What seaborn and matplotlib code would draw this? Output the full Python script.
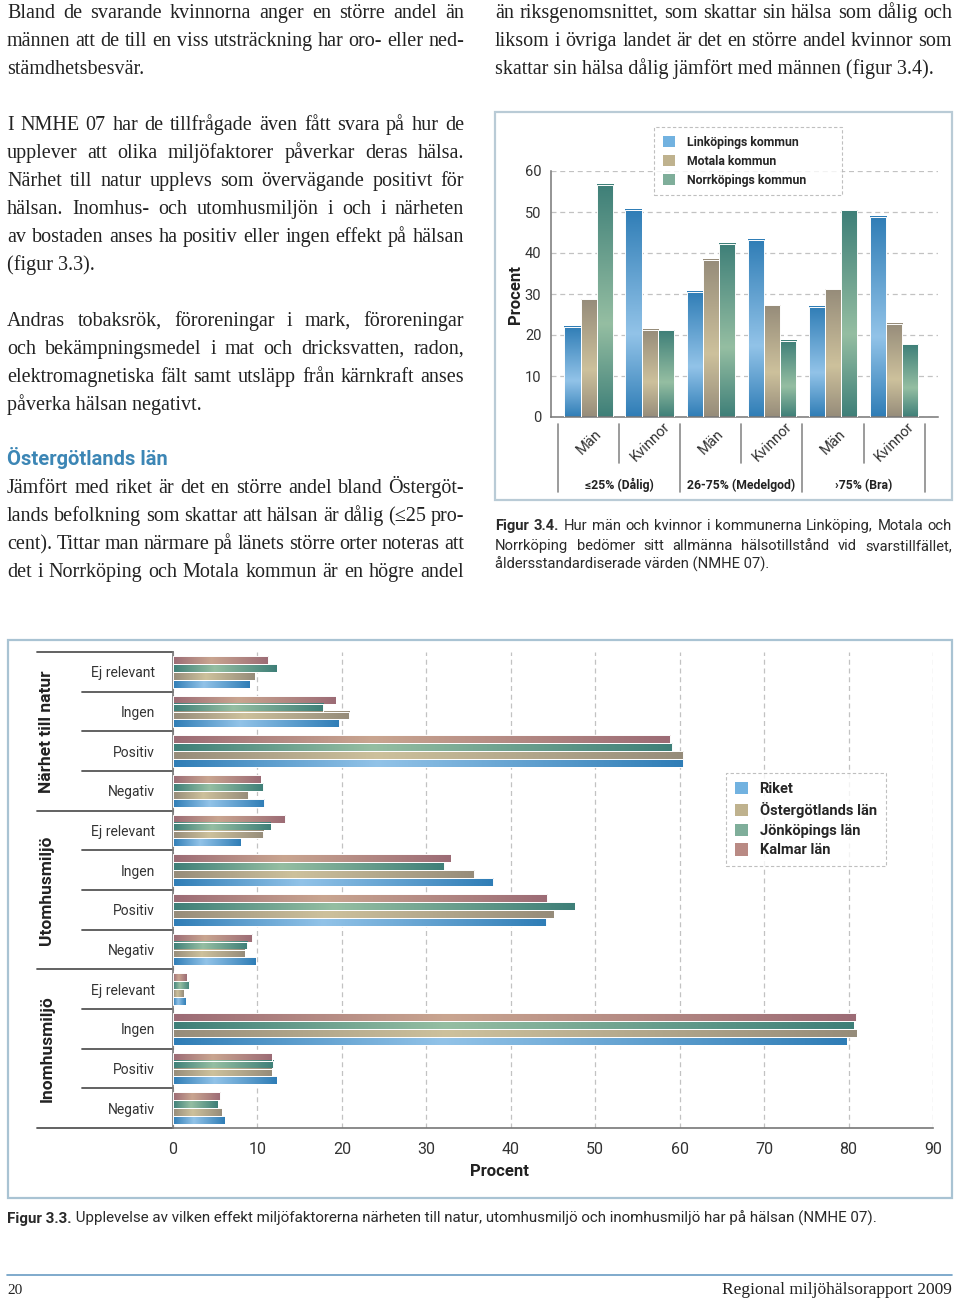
import matplotlib
matplotlib.use("Agg")
import matplotlib.pyplot as plt
import matplotlib.transforms as mtrans
from matplotlib.colors import LinearSegmentedColormap
from matplotlib.lines import Line2D
from matplotlib.patches import Patch, Rectangle
import numpy as np
import pandas as pd
import seaborn as sns

sns.set_style("white")
plt.rcParams['font.family'] = ['Roboto', 'DejaVu Sans']

W, H = 960, 1298
SERIF = ['Liberation Serif', 'DejaVu Serif']
SANS = ['Roboto', 'DejaVu Sans']

# ---- data, figur 3.4 ----
halsa_grupper = ["≤25% (Dålig)", "26-75% (Medelgod)", "›75% (Bra)"]
kon = ["Män", "Kvinnor"]
kommuner = ["Linköpings kommun", "Motala kommun", "Norrköpings kommun"]
linkoping = [22.0, 50.5, 30.5, 43.2, 26.9, 48.8]
motala = [28.7, 21.3, 38.4, 27.3, 31.2, 22.8]
norrkoping = [56.7, 21.1, 42.3, 18.6, 50.4, 17.7]

# ---- data, figur 3.3 ----
faktorer = ["Närhet till natur", "Utomhusmiljö", "Inomhusmiljö"]
effekter = ["Ej relevant", "Ingen", "Positiv", "Negativ"]
omraden = ["Riket", "Östergötlands län", "Jönköpings län", "Kalmar län"]
riket = [9.1, 19.7, 60.4, 10.8, 8.0, 37.9, 44.2, 9.8, 1.5, 79.8, 12.3, 6.1]
ostergotland = [9.7, 20.9, 60.4, 8.9, 10.7, 35.7, 45.1, 8.5, 1.3, 81.0, 11.7, 5.8]
jonkoping = [12.3, 17.8, 59.1, 10.7, 11.6, 32.1, 47.6, 8.8, 1.9, 80.6, 11.9, 5.3]
kalmar = [11.3, 19.3, 58.9, 10.4, 13.3, 32.9, 44.3, 9.4, 1.6, 80.9, 11.7, 5.6]

# colours: (flat legend colour, dark end, light middle)
BLUE = ("#72b2e0", "#2f7db6", "#92c3e8")
TAN = ("#bfb28e", "#968c7a", "#cdc19c")
TEAL = ("#7fae9a", "#3e7f78", "#95bea2")
ROSE = ("#b98a84", "#9c6b75", "#c9a590")


def fx(x):
    return x / W


def fy(y):
    return 1 - y / H


def shade(ax, levels, cols, horizontal):
    # replace flat bars by a dark-light-dark gradient, like the print
    for cont, lev in zip(ax.containers, levels):
        _, dark, light = cols[lev]
        cmap = LinearSegmentedColormap.from_list("g", [(0, dark), (0.4, light), (1, dark)])
        grad = np.linspace(0, 1, 256)
        img = grad[None, :] if horizontal else grad[:, None]
        for bar in cont:
            x0, y0, w, h = bar.get_x(), bar.get_y(), bar.get_width(), bar.get_height()
            ax.imshow(img, cmap=cmap, extent=[x0, x0 + w, y0, y0 + h], origin="lower",
                      aspect="auto", interpolation="bicubic", zorder=2)
            bar.set_facecolor("none")
            bar.set_edgecolor("white")
            bar.set_linewidth(0.7)
            bar.set_zorder(3)


def put_line(fig, rend, tokens, x0, x1, base, size, family, color="#222222"):
    # justified line: one text per word, gaps stretched to fill x0..x1
    def build(sz):
        ts = [fig.text(0, fy(base), w, fontsize=sz, family=family, fontweight=wt,
                       color=color, va="baseline", ha="left") for w, wt in tokens]
        return ts, [t.get_window_extent(rend).width for t in ts]
    ts, ws = build(size)
    space = size * 100 / 72 * 0.25
    n = len(ts)
    need = sum(ws) + 0.6 * space * (n - 1)
    if need > x1 - x0:
        for t in ts:
            t.remove()
        ts, ws = build(size * (x1 - x0) / need)
    gap = (x1 - x0 - sum(ws)) / (n - 1) if n > 1 else 0
    x = x0
    for t, w in zip(ts, ws):
        t.set_x(fx(x))
        x += w + gap


def words(s, wt="normal"):
    return [(w, wt) for w in s.split()]


def bold_lead(fig, rend, lead, rest, x0, base, size, color="#2a2a2a"):
    t = fig.text(fx(x0), fy(base), lead, fontsize=size, fontweight="bold", family=SANS,
                 color=color, va="baseline")
    w = t.get_window_extent(rend).width
    fig.text(fx(x0 + w), fy(base), " " + rest, fontsize=size, family=SANS, color=color,
             va="baseline")


fig = plt.figure(figsize=(W / 100, H / 100), dpi=100)
fig.patch.set_facecolor("white")
rend = fig.canvas.get_renderer()

# ---------------- page text ----------------
body = 14.5
left_col = [
    ("Bland de svarande kvinnorna anger en större andel än", 18, True),
    ("männen att de till en viss utsträckning har oro- eller ned-", 46, True),
    ("stämdhetsbesvär.", 74, False),
    ("I NMHE 07 har de tillfrågade även fått svara på hur de", 130, True),
    ("upplever att olika miljöfaktorer påverkar deras hälsa.", 158, True),
    ("Närhet till natur upplevs som övervägande positivt för", 186, True),
    ("hälsan. Inomhus- och utomhusmiljön i och i närheten", 214, True),
    ("av bostaden anses ha positiv eller ingen effekt på hälsan", 242, True),
    ("(figur 3.3).", 270, False),
    ("Andras tobaksrök, föroreningar i mark, föroreningar", 326, True),
    ("och bekämpningsmedel i mat och dricksvatten, radon,", 354, True),
    ("elektromagnetiska fält samt utsläpp från kärnkraft anses", 382, True),
    ("påverka hälsan negativt.", 410, False),
    ("Jämfört med riket är det en större andel bland Östergöt-", 493, True),
    ("lands befolkning som skattar att hälsan är dålig (≤25 pro-", 521, True),
    ("cent). Tittar man närmare på länets större orter noteras att", 549, True),
    ("det i Norrköping och Motala kommun är en högre andel", 577, True),
]
right_col = [
    ("än riksgenomsnittet, som skattar sin hälsa som dålig och", 18, True),
    ("liksom i övriga landet är det en större andel kvinnor som", 46, True),
    ("skattar sin hälsa dålig jämfört med männen (figur 3.4).", 74, False),
]
for col, (x0, x1) in [(left_col, (7, 464)), (right_col, (495, 952))]:
    for txt, base, just in col:
        if just:
            put_line(fig, rend, words(txt), x0, x1, base, body, SERIF)
        else:
            fig.text(fx(x0), fy(base), txt, fontsize=body, family=SERIF, color="#222222",
                     va="baseline")

fig.text(fx(7), fy(465), "Östergötlands län", fontsize=14.5, fontweight="bold",
         color="#3c86b5", family=SANS, va="baseline")

# caption figur 3.4
put_line(fig, rend, words("Figur 3.4.", "bold") +
         words("Hur män och kvinnor i kommunerna Linköping, Motala och"),
         495, 952, 530, 10.6, SANS, color="#2a2a2a")
put_line(fig, rend, words("Norrköping bedömer sitt allmänna hälsotillstånd vid svarstillfället,"),
         495, 952, 550, 10.6, SANS, color="#2a2a2a")
fig.text(fx(495), fy(569), "åldersstandardiserade värden (NMHE 07).", fontsize=10.6,
         family=SANS, color="#2a2a2a", va="baseline")

# caption figur 3.3
bold_lead(fig, rend, "Figur 3.3.", "Upplevelse av vilken effekt miljöfaktorerna närheten till "
          "natur, utomhusmiljö och inomhusmiljö har på hälsan (NMHE 07).", 7, 1223, 10.9)

# footer
fig.add_artist(Line2D([fx(7), fx(952)], [fy(1275), fy(1275)], color="#6a9cc4", lw=1.2))
fig.text(fx(7), fy(1294), "20", fontsize=11, family=SERIF, color="#222222", va="baseline")
fig.text(fx(952), fy(1294), "Regional miljöhälsorapport 2009", fontsize=12.5, family=SERIF,
         color="#222222", va="baseline", ha="right")

# frames round the two figures
fig.add_artist(Rectangle((fx(495), fy(500)), (952 - 495) / W, (500 - 112) / H,
                         transform=fig.transFigure, fill=False, ec="#b9cbd6", lw=1.6))
fig.add_artist(Rectangle((fx(8), fy(1198)), (952 - 8) / W, (1198 - 640) / H,
                         transform=fig.transFigure, fill=False, ec="#a9c3d3", lw=1.6))

# ---------------- figur 3.4 ----------------
keys = [f"{g}|{k}" for g in halsa_grupper for k in kon]
top = pd.DataFrame({
    "key": keys * 3,
    "procent": linkoping + motala + norrkoping,
    "kommun": np.repeat(kommuner, len(keys)),
})
top_cols = dict(zip(kommuner, [BLUE, TAN, TEAL]))

ax1 = fig.add_axes([fx(551), fy(417), (938 - 551) / W, (417 - 171) / H])
sns.barplot(data=top, x="key", y="procent", hue="kommun", hue_order=kommuner, order=keys,
            palette={k: c[0] for k, c in top_cols.items()}, width=0.8, saturation=1,
            legend=False, ax=ax1)
shade(ax1, kommuner, top_cols, horizontal=False)
ax1.set_xlim(-0.62, 5.72)
ax1.set_ylim(0, 60)
ax1.set_yticks(range(0, 61, 10))
ax1.yaxis.grid(True, ls=(0, (4, 3)), color="#c2c2c2", lw=0.9)
ax1.set_axisbelow(True)
ax1.tick_params(axis="y", length=0, pad=7, labelsize=10.5, labelcolor="#333333")
ax1.set_xticks(range(len(keys)))
ax1.set_xticklabels([])
ax1.tick_params(axis="x", length=0)
ax1.set_xlabel("")
ax1.set_ylabel("Procent", fontsize=12, fontweight="bold", color="#222222")
ax1.yaxis.set_label_coords(-0.072, 0.5)
for s in ["top", "right"]:
    ax1.spines[s].set_visible(False)
for s in ["left", "bottom"]:
    ax1.spines[s].set_color("#777777")
    ax1.spines[s].set_linewidth(1.1)

bt1 = mtrans.blended_transform_factory(ax1.transData, ax1.transAxes)
for i, k in enumerate(keys):
    ax1.text(i, -0.10, k.split("|")[1], transform=bt1, rotation=45, ha="center",
             va="center", fontsize=10.5, color="#333333")
for j in range(7):
    xs = j - 0.5
    yb = -0.305 if j % 2 == 0 else -0.185
    ax1.add_line(Line2D([xs, xs], [-0.03, yb], transform=bt1, color="#8a8a8a",
                        lw=1.2, clip_on=False))
for g, lab in enumerate(halsa_grupper):
    ax1.text(2 * g + 0.5, -0.278, lab, transform=bt1, ha="center", va="center",
             fontsize=8.8, fontweight="bold", color="#222222")

leg1 = fig.legend([Patch(fc=top_cols[k][0], ec="none") for k in kommuner], kommuner,
                  loc="upper left", bbox_to_anchor=(fx(654), fy(199), (842 - 654) / W, (199 - 127) / H),
                  mode="expand", frameon=True, fancybox=False,
                  prop={"family": SANS, "weight": "bold", "size": 8.8},
                  handlelength=1.0, handleheight=1.0, labelspacing=0.5, borderpad=0.7,
                  handletextpad=1.0, borderaxespad=0)
leg1.get_frame().set_linestyle((0, (3, 2)))
leg1.get_frame().set_edgecolor("#b0b0b0")
leg1.get_frame().set_linewidth(0.8)

# ---------------- figur 3.3 ----------------
bkeys = [f"{f}|{e}" for f in faktorer for e in effekter]
hue_order = ["Kalmar län", "Jönköpings län", "Östergötlands län", "Riket"]
bot = pd.DataFrame({
    "key": bkeys * 4,
    "procent": riket + ostergotland + jonkoping + kalmar,
    "omrade": np.repeat(omraden, len(bkeys)),
})
bot_cols = dict(zip(omraden, [BLUE, TAN, TEAL, ROSE]))

ax2 = fig.add_axes([fx(173), fy(1128), (933 - 173) / W, (1128 - 652) / H])
sns.barplot(data=bot, y="key", x="procent", hue="omrade", hue_order=hue_order, order=bkeys,
            orient="h", palette={k: c[0] for k, c in bot_cols.items()}, width=0.8,
            saturation=1, legend=False, ax=ax2)
shade(ax2, hue_order, bot_cols, horizontal=True)
ax2.set_xlim(0, 90)
ax2.set_ylim(len(bkeys) - 0.5, -0.5)
ax2.set_xticks(range(0, 91, 10))
ax2.xaxis.grid(True, ls=(0, (4, 3)), color="#c2c2c2", lw=0.9)
ax2.set_axisbelow(True)
ax2.tick_params(axis="x", length=0, pad=10, labelsize=11.5, labelcolor="#333333")
ax2.set_yticks(range(len(bkeys)))
ax2.set_yticklabels([k.split("|")[1] for k in bkeys])
ax2.tick_params(axis="y", length=0, pad=13, labelsize=10, labelcolor="#333333")
ax2.set_ylabel("")
ax2.set_xlabel("Procent", fontsize=12, fontweight="bold", color="#222222")
ax2.xaxis.set_label_coords(0.429, -0.075)
for s in ["top", "right"]:
    ax2.spines[s].set_visible(False)
for s in ["left", "bottom"]:
    ax2.spines[s].set_color("#777777")
    ax2.spines[s].set_linewidth(1.2)

bt2 = mtrans.blended_transform_factory(ax2.transAxes, ax2.transData)
for j in range(len(bkeys) + 1):
    xs = -0.179 if j % 4 == 0 else -0.12
    ax2.add_line(Line2D([xs, 0], [j - 0.5, j - 0.5], transform=bt2, color="#555555",
                        lw=1.3, clip_on=False))
for g, lab in enumerate(faktorer):
    ax2.text(-0.166, 4 * g + 1.5, lab, transform=bt2, rotation=90, ha="center",
             va="center", fontsize=12.5, fontweight="bold", color="#222222")

leg2 = fig.legend([Patch(fc=bot_cols[k][0], ec="none") for k in omraden], omraden,
                  loc="upper left", bbox_to_anchor=(fx(726), fy(866), (886 - 726) / W, (866 - 773) / H),
                  mode="expand", frameon=True, fancybox=False,
                  prop={"family": SANS, "weight": "bold", "size": 10.5},
                  handlelength=0.9, handleheight=0.9, labelspacing=0.4, borderpad=0.6,
                  handletextpad=0.8, borderaxespad=0)
leg2.get_frame().set_linestyle((0, (3, 2)))
leg2.get_frame().set_edgecolor("#b0b0b0")
leg2.get_frame().set_linewidth(0.8)

fig.savefig("out.png", dpi=100, facecolor="white")
